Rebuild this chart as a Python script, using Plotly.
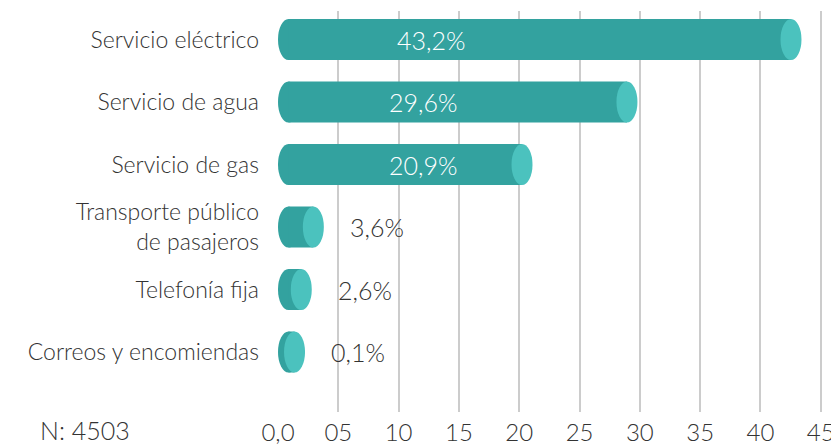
import plotly.graph_objects as go

categories = ["Servicio eléctrico", "Servicio de agua", "Servicio de gas",
              "Transporte público<br>de pasajeros", "Telefonía fija",
              "Correos y encomiendas"]
values = [43.2, 29.6, 20.9, 3.6, 2.6, 0.1]
value_labels = ["43,2%", "29,6%", "20,9%", "3,6%", "2,6%", "0,1%"]
tick_vals = [0, 5, 10, 15, 20, 25, 30, 35, 40, 45]
tick_text = ["0,0", "05", "10", "15", "20", "25", "30", "35", "40", "45"]
n_label = "N: 4503"

BODY = "#33a29f"
CAP = "#4bc2be"
TEXT = "#333333"
FONT = "Lato Light, Lato"

# page has an 8px body margin: figure is sized to fill the 839x446 window
W, H = 831, 438
ML, MR, MT, MB = 270, 17, 3, 34
x_range = [0, 45.1]
y_range = [5.96, -0.456]

rx = 0.87      # half width of cylinder ellipse in data units
hh = 0.328     # half height of bar in row units

fig = go.Figure()
fig.add_trace(go.Scatter(x=[0], y=[0], mode="markers", marker=dict(opacity=0),
                         hoverinfo="skip", showlegend=False))

shapes = []
annotations = []
for i, (v, lab) in enumerate(zip(values, value_labels)):
    cap_c = max(v + 0.2 - rx, rx + 0.5)
    y0, y1 = i - hh, i + hh
    shapes.append(dict(type="circle", xref="x", yref="y", x0=0, x1=2 * rx, y0=y0, y1=y1,
                       fillcolor=BODY, line=dict(width=0)))
    shapes.append(dict(type="rect", xref="x", yref="y", x0=rx, x1=cap_c, y0=y0, y1=y1,
                       fillcolor=BODY, line=dict(width=0)))
    shapes.append(dict(type="circle", xref="x", yref="y", x0=cap_c - rx, x1=cap_c + rx,
                       y0=y0, y1=y1, fillcolor=CAP, line=dict(width=0)))
    if v > 10:
        annotations.append(dict(x=12.7 if i == 0 else 12.0, y=i, xref="x", yref="y", text=lab,
                                showarrow=False, xanchor="center", yanchor="middle",
                                font=dict(family=FONT, size=25, color="white", weight=300)))
    else:
        annotations.append(dict(x=cap_c + rx + 2.0, y=i, xref="x", yref="y", text=lab,
                                showarrow=False, xanchor="left", yanchor="middle",
                                font=dict(family=FONT, size=25, color=TEXT, weight=300)))

annotations.append(dict(x=(30 - ML) / (W - ML - MR), y=-(422 - (H - MB)) / (H - MT - MB),
                        xref="paper", yref="paper", text=n_label, showarrow=False,
                        xanchor="left", yanchor="middle",
                        font=dict(family=FONT, size=25, color=TEXT, weight=300)))

fig.update_layout(
    width=W, height=H,
    margin=dict(l=ML, r=MR, t=MT, b=MB, autoexpand=False),
    paper_bgcolor="white", plot_bgcolor="white",
    shapes=shapes, annotations=annotations,
    font=dict(family=FONT, color=TEXT, weight=300),
    xaxis=dict(range=x_range, tickvals=tick_vals, ticktext=tick_text,
               showgrid=True, gridcolor="#cccccc", gridwidth=1.5,
               zeroline=False, showline=False, ticks="", automargin=False,
               tickfont=dict(family=FONT, size=24, color=TEXT, weight=300),
               ticklabelstandoff=4),
    yaxis=dict(range=y_range, tickvals=list(range(len(categories))), ticktext=categories,
               showgrid=False, zeroline=False, showline=False, ticks="", automargin=False,
               tickfont=dict(family=FONT, size=23, color=TEXT, weight=300),
               ticklabelstandoff=18),
)

fig.write_html("out.html")
